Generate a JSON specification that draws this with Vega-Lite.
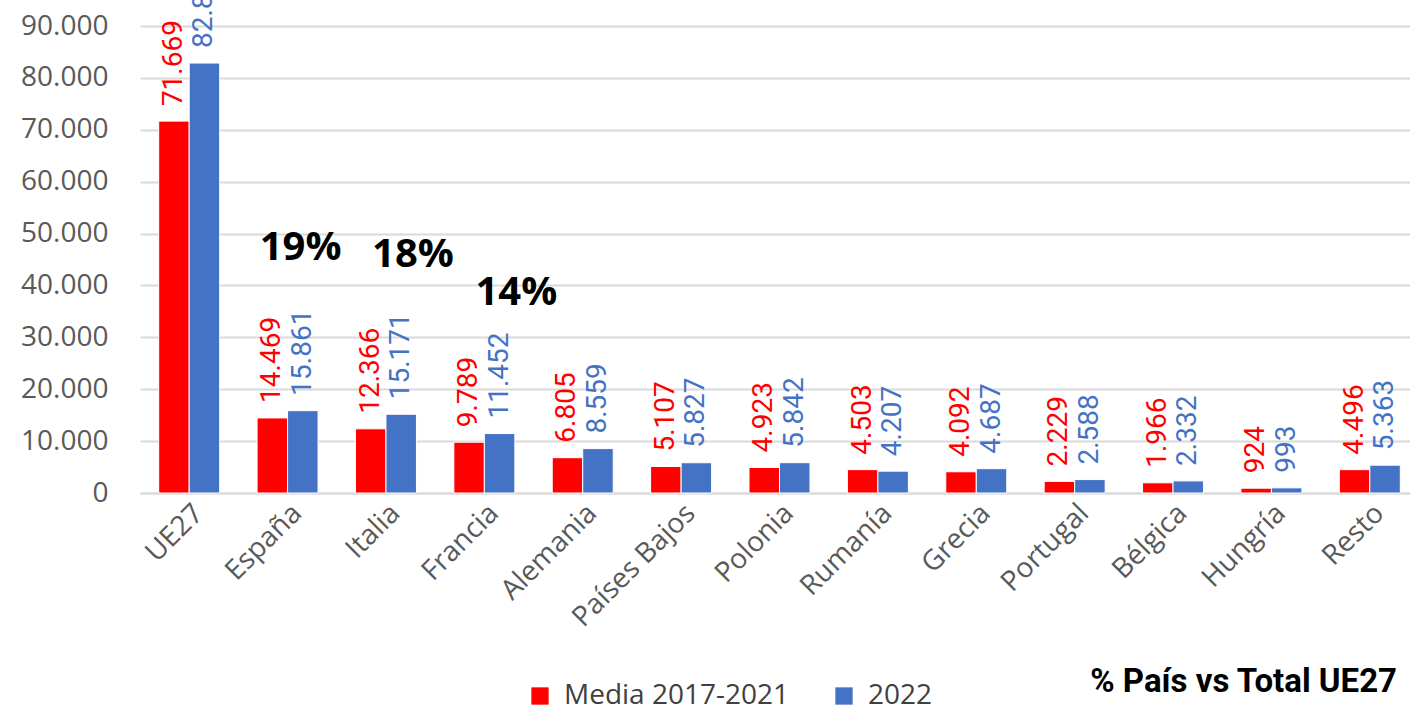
{
  "$schema": "https://vega.github.io/schema/vega-lite/v6.json",
  "width": 1279,
  "height": 467,
  "autosize": {"type": "none"},
  "padding": {"left": 140, "top": 26, "right": 0, "bottom": 221},
  "background": "white",
  "config": {
    "locale": {"number": {"decimal": ",", "thousands": ".", "grouping": [3], "currency": ["", "€"]}},
    "view": {"stroke": null},
    "font": "Open Sans"
  },
  "title": {
    "text": "% País vs Total UE27",
    "orient": "bottom",
    "anchor": "end",
    "font": "Roboto",
    "fontWeight": "bold",
    "fontSize": 33,
    "color": "#000000",
    "offset": -44,
    "dx": -22
  },
  "datasets": {
    "bars": [
      {"pais": "UE27", "serie": "Media 2017-2021", "valor": 71669},
      {"pais": "UE27", "serie": "2022", "valor": 82859},
      {"pais": "España", "serie": "Media 2017-2021", "valor": 14469},
      {"pais": "España", "serie": "2022", "valor": 15861},
      {"pais": "Italia", "serie": "Media 2017-2021", "valor": 12366},
      {"pais": "Italia", "serie": "2022", "valor": 15171},
      {"pais": "Francia", "serie": "Media 2017-2021", "valor": 9789},
      {"pais": "Francia", "serie": "2022", "valor": 11452},
      {"pais": "Alemania", "serie": "Media 2017-2021", "valor": 6805},
      {"pais": "Alemania", "serie": "2022", "valor": 8559},
      {"pais": "Países Bajos", "serie": "Media 2017-2021", "valor": 5107},
      {"pais": "Países Bajos", "serie": "2022", "valor": 5827},
      {"pais": "Polonia", "serie": "Media 2017-2021", "valor": 4923},
      {"pais": "Polonia", "serie": "2022", "valor": 5842},
      {"pais": "Rumanía", "serie": "Media 2017-2021", "valor": 4503},
      {"pais": "Rumanía", "serie": "2022", "valor": 4207},
      {"pais": "Grecia", "serie": "Media 2017-2021", "valor": 4092},
      {"pais": "Grecia", "serie": "2022", "valor": 4687},
      {"pais": "Portugal", "serie": "Media 2017-2021", "valor": 2229},
      {"pais": "Portugal", "serie": "2022", "valor": 2588},
      {"pais": "Bélgica", "serie": "Media 2017-2021", "valor": 1966},
      {"pais": "Bélgica", "serie": "2022", "valor": 2332},
      {"pais": "Hungría", "serie": "Media 2017-2021", "valor": 924},
      {"pais": "Hungría", "serie": "2022", "valor": 993},
      {"pais": "Resto", "serie": "Media 2017-2021", "valor": 4496},
      {"pais": "Resto", "serie": "2022", "valor": 5363}
    ]
  },
  "encoding": {
    "x": {
      "field": "pais",
      "type": "nominal",
      "sort": ["UE27", "España", "Italia", "Francia", "Alemania", "Países Bajos", "Polonia", "Rumanía", "Grecia", "Portugal", "Bélgica", "Hungría", "Resto"],
      "scale": {"paddingInner": 0.38, "paddingOuter": 0.19},
      "axis": {
        "title": null,
        "labelAngle": -45,
        "labelFontSize": 28,
        "labelColor": "#595959",
        "labelFont": "Open Sans",
        "labelPadding": 6,
        "labelLimit": 0,
        "ticks": false,
        "domainColor": "#d9d9d9",
        "domainWidth": 2
      }
    }
  },
  "layer": [
    {
      "data": {"name": "bars"},
      "mark": {"type": "bar", "stroke": "white", "strokeWidth": 1},
      "encoding": {
        "xOffset": {"field": "serie", "type": "nominal", "sort": ["Media 2017-2021", "2022"]},
        "y": {
          "field": "valor",
          "type": "quantitative",
          "scale": {"domain": [0, 90000], "nice": false},
          "axis": {
            "title": null,
            "values": [0, 10000, 20000, 30000, 40000, 50000, 60000, 70000, 80000, 90000],
            "format": ",d",
            "labelFontSize": 28,
            "labelColor": "#595959",
            "labelFont": "Open Sans",
            "labelPadding": 32,
            "ticks": false,
            "domain": false,
            "gridColor": "#d9d9d9",
            "gridWidth": 2
          }
        },
        "color": {
          "field": "serie",
          "type": "nominal",
          "sort": ["Media 2017-2021", "2022"],
          "scale": {"domain": ["Media 2017-2021", "2022"], "range": ["#ff0000", "#4472c4"]},
          "legend": {
            "title": null,
            "orient": "none",
            "direction": "horizontal",
            "legendX": 386,
            "legendY": 656,
            "symbolType": "square",
            "symbolSize": 300,
            "symbolStrokeWidth": 0,
            "labelFontSize": 28,
            "labelFont": "Open Sans",
            "labelColor": "#404040",
            "labelLimit": 0,
            "columnPadding": 40,
            "labelOffset": 10
          }
        }
      }
    },
    {
      "data": {"name": "bars"},
      "mark": {"type": "text", "angle": -90, "align": "left", "baseline": "middle", "dx": 15, "fontSize": 28, "font": "Roboto"},
      "encoding": {
        "xOffset": {"field": "serie", "type": "nominal", "sort": ["Media 2017-2021", "2022"]},
        "y": {"field": "valor", "type": "quantitative"},
        "text": {"field": "valor", "type": "quantitative", "format": ",d"},
        "color": {"field": "serie", "type": "nominal", "sort": ["Media 2017-2021", "2022"]}
      }
    },
    {
      "data": {"values": [{"pais": "España", "pct": "19%"}]},
      "mark": {"type": "text", "fontSize": 40, "fontWeight": "bold", "font": "Open Sans", "color": "#000000", "dx": 13},
      "encoding": {"y": {"datum": 47200}, "text": {"field": "pct"}}
    },
    {
      "data": {"values": [{"pais": "Italia", "pct": "18%"}]},
      "mark": {"type": "text", "fontSize": 40, "fontWeight": "bold", "font": "Open Sans", "color": "#000000", "dx": 27},
      "encoding": {"y": {"datum": 45800}, "text": {"field": "pct"}}
    },
    {
      "data": {"values": [{"pais": "Francia", "pct": "14%"}]},
      "mark": {"type": "text", "fontSize": 40, "fontWeight": "bold", "font": "Open Sans", "color": "#000000", "dx": 32},
      "encoding": {"y": {"datum": 38500}, "text": {"field": "pct"}}
    }
  ]
}
